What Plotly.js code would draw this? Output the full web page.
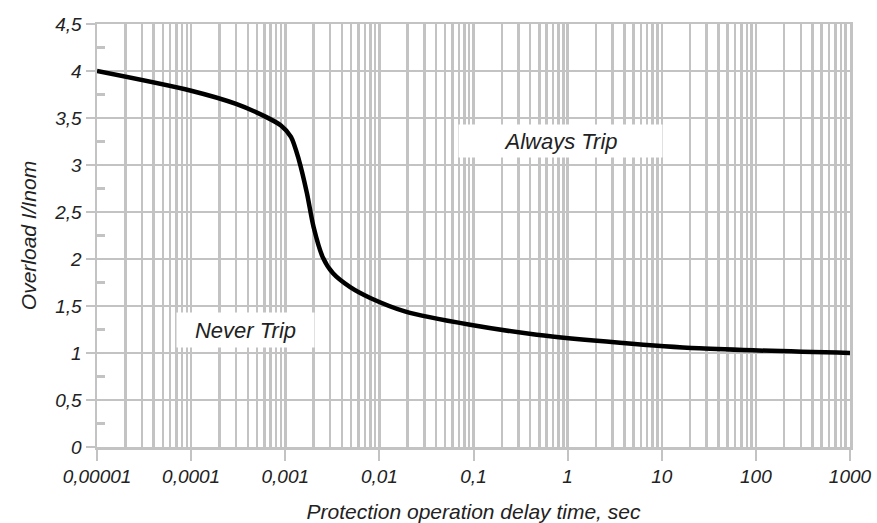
<!DOCTYPE html>
<html>
<head>
<meta charset="utf-8">
<script src="https://cdn.plot.ly/plotly-3.0.1.min.js"></script>
<style>html,body{margin:0;padding:0;background:#fff}#chart{width:877px;height:523px}</style>
</head>
<body>
<div id="chart"></div>
<script>
// Curve: protection delay time (s) vs overload I/Inom
const delayTime = [1e-5, 1e-4, 3e-4, 6e-4, 9e-4, 1.15e-3, 1.4e-3, 1.7e-3, 2.0e-3, 2.5e-3, 3.2e-3, 4.9e-3, 8e-3, 0.019, 0.092, 0.47, 3.6, 25, 1000];
const overload  = [4.0, 3.79, 3.65, 3.52, 3.42, 3.30, 3.05, 2.70, 2.34, 2.02, 1.85, 1.70, 1.585, 1.44, 1.30, 1.195, 1.11, 1.05, 1.0];

const xTickVals = [1e-5, 1e-4, 1e-3, 1e-2, 1e-1, 1, 10, 100, 1000];
const xTickText = ["0,00001", "0,0001", "0,001", "0,01", "0,1", "1", "10", "100", "1000"];
const yTickVals = [0, 0.5, 1, 1.5, 2, 2.5, 3, 3.5, 4, 4.5];
const yTickText = ["0", "0,5", "1", "1,5", "2", "2,5", "3", "3,5", "4", "4,5"];

const labelAlways = "Always Trip";
const labelNever = "Never Trip";
const xTitle = "Protection operation delay time, sec";
const yTitle = "Overload I/Inom";

const gridC = "#c3c3c3";
const txtC = "#222222";
const fnt = "Liberation Sans, Arial, sans-serif";

const trace = {
  x: delayTime, y: overload, type: "scatter", mode: "lines",
  line: {color: "#000", width: 4.5, shape: "spline", smoothing: 0.8},
  hoverinfo: "skip"
};

const layout = {
  width: 877, height: 523,
  margin: {l: 97, r: 27, t: 24, b: 76},
  paper_bgcolor: "#fff", plot_bgcolor: "#fff",
  showlegend: false,
  font: {family: fnt, color: txtC},
  xaxis: {
    type: "log", range: [-5, 3],
    tickmode: "array", tickvals: xTickVals, ticktext: xTickText,
    tickfont: {family: fnt, size: 19, color: txtC, style: "italic"},
    ticks: "outside", ticklen: 11, tickwidth: 2, tickcolor: gridC,
    showgrid: true, gridcolor: gridC, gridwidth: 2.5,
    minor: {tickmode: "linear", dtick: "D1", showgrid: true, gridcolor: gridC, gridwidth: 2.5, ticks: ""},
    showline: true, linecolor: gridC, linewidth: 2.5, mirror: true,
    zeroline: false,
    title: {text: xTitle, font: {family: fnt, size: 21, color: txtC, style: "italic"}, standoff: 19}
  },
  yaxis: {
    range: [0, 4.5],
    tickmode: "array", tickvals: yTickVals, ticktext: yTickText,
    tickfont: {family: fnt, size: 19, color: txtC, style: "italic"},
    ticks: "outside", ticklen: 9, tickwidth: 2.5, tickcolor: gridC,
    showgrid: true, gridcolor: gridC, gridwidth: 2.5,
    minor: {tickmode: "linear", tick0: 0.25, dtick: 0.5, ticks: "inside", ticklen: 8, tickwidth: 2.5, tickcolor: gridC, showgrid: false},
    showline: true, linecolor: gridC, linewidth: 2.5, mirror: true,
    zeroline: false,
    title: {text: yTitle, font: {family: fnt, size: 21, color: txtC, style: "italic"}, standoff: 12}
  },
  annotations: [
    {xref: "x", yref: "y", x: -0.08, y: 3.255, text: labelAlways, showarrow: false,
     font: {family: fnt, size: 22, color: txtC, style: "italic"},
     bgcolor: "#fff", width: 197, height: 26, borderpad: 3, xanchor: "center", yanchor: "middle"},
    {xref: "x", yref: "y", x: -3.427, y: 1.245, text: labelNever, showarrow: false,
     font: {family: fnt, size: 22, color: txtC, style: "italic"},
     bgcolor: "#fff", width: 131, height: 28, borderpad: 3, xanchor: "center", yanchor: "middle"}
  ]
};

Plotly.newPlot("chart", [trace], layout, {displayModeBar: false, staticPlot: true});
</script>
</body>
</html>
